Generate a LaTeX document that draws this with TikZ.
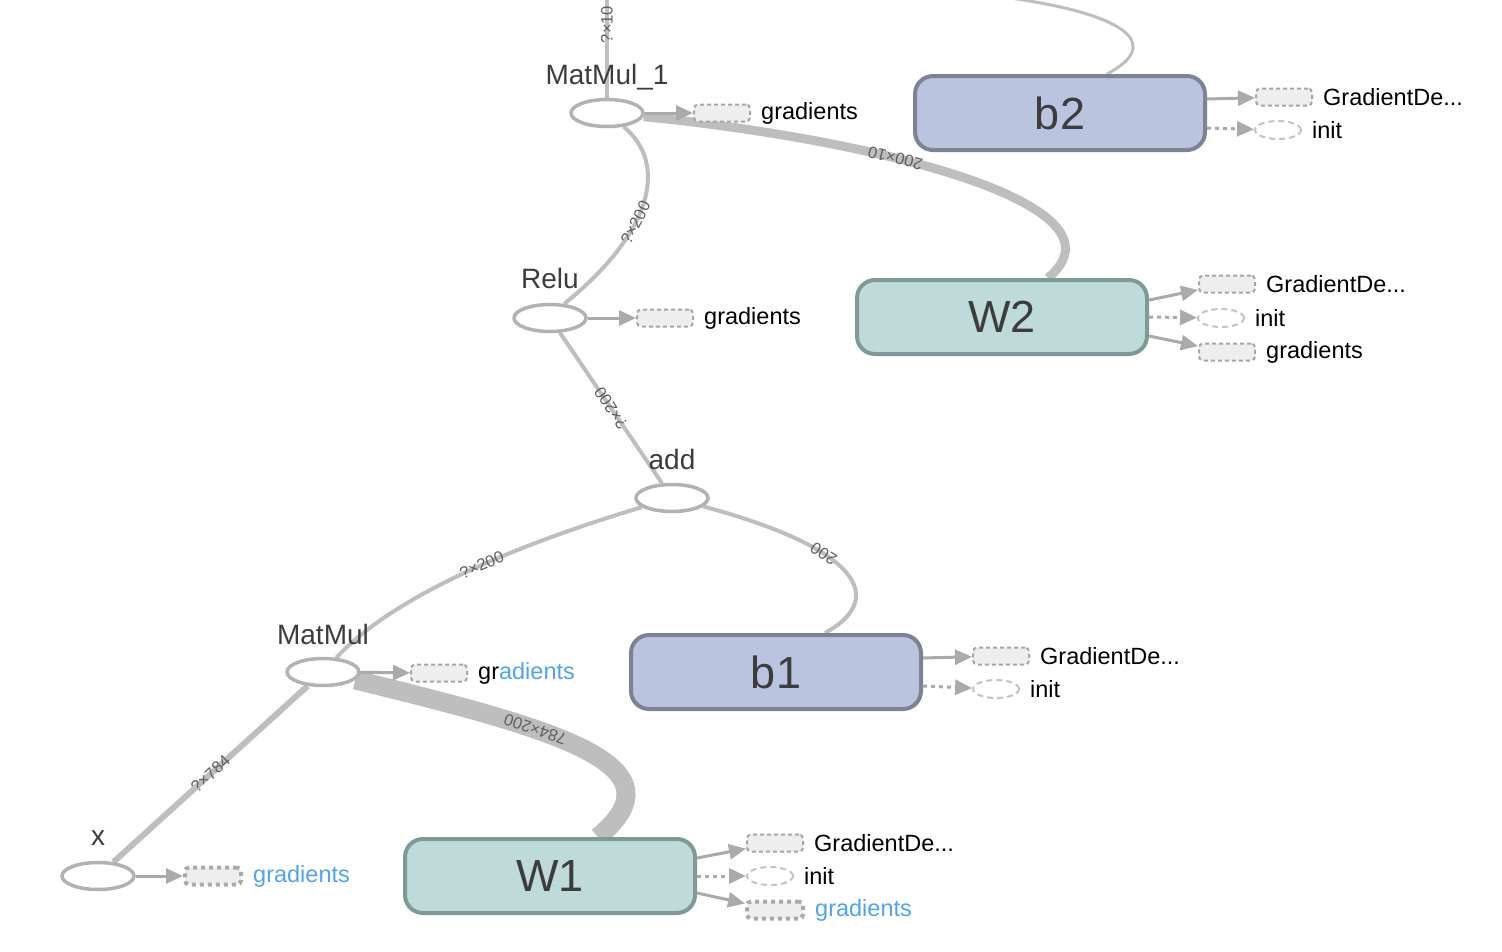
\documentclass[tikz,border=0pt]{standalone}
\usepackage{fontspec}
\setmainfont{Liberation Sans}
\usepackage{xcolor}
\usetikzlibrary{shapes.geometric,arrows.meta,positioning,backgrounds}

\definecolor{arista}{RGB}{190,190,190}
\definecolor{flecha}{RGB}{170,170,170}
\definecolor{opborde}{RGB}{178,178,178}
\definecolor{auxrelleno}{RGB}{238,238,238}
\definecolor{auxborde}{RGB}{165,165,165}
\definecolor{iniborde}{RGB}{195,195,195}
\definecolor{bazul}{RGB}{186,196,222}
\definecolor{bborde}{RGB}{124,131,149}
\definecolor{wverde}{RGB}{190,219,218}
\definecolor{wborde}{RGB}{126,153,152}
\definecolor{textoop}{RGB}{60,60,60}
\definecolor{azul}{RGB}{79,163,242}
\definecolor{etiqgris}{RGB}{95,95,95}

\tikzset{
    opnodo/.style={ellipse, draw=opborde, line width=3.5pt, fill=white,
        minimum width=72pt, minimum height=27pt, inner sep=0pt},
    opnombre/.style={anchor=base, inner sep=0pt, text=textoop,
        font=\fontsize{28}{30}\selectfont},
    varnodo/.style={rectangle, rounded corners=18pt, line width=4pt,
        minimum width=290pt, minimum height=74pt, text=textoop,
        font=\fontsize{45}{47}\selectfont},
    auxnodo/.style={rectangle, rounded corners=4pt, draw=auxborde, fill=auxrelleno,
        line width=2pt, dash pattern=on 4pt off 3pt,
        minimum width=56pt, minimum height=17pt, inner sep=0pt},
    auxpunt/.style={auxnodo, line width=4pt, draw=flecha, dash pattern=on 4pt off 4pt},
    auxinit/.style={ellipse, draw=iniborde, fill=white, line width=2pt,
        dash pattern=on 6pt off 4pt, minimum width=46pt, minimum height=18pt, inner sep=0pt},
    auxtexto/.style={anchor=west, inner sep=0pt, font=\fontsize{23.5}{26}\selectfont},
    flujo/.style={draw=arista, line width=4pt},
    etiq/.style={font=\fontsize{16.5}{18}\selectfont, text=etiqgris, inner sep=1pt,
        sloped, allow upside down},
    ctrl/.style={draw=flecha, line width=3pt, -{Triangle[length=17pt,width=15pt]}},
    ctrlpunt/.style={ctrl, dash pattern=on 4pt off 4pt}
}

\begin{document}
\begin{tikzpicture}[x=1pt,y=-1pt]
    \useasboundingbox (0,0) rectangle (1502,951);

    % operaciones
    \node[opnodo] (mm1) at (607,113) {};
    \node[opnodo] (relu) at (550,318) {};
    \node[opnodo] (add) at (672,498) {};
    \node[opnodo] (mm) at (323,672) {};
    \node[opnodo] (xin) at (98,876) {};

    % nombres de las operaciones
    \node[opnombre] (mm1n) at ([yshift=13pt]mm1.north) {MatMul\_1};
    \node[opnombre] (relun) at ([yshift=14pt]relu.north) {Relu};
    \node[opnombre] (addn) at ([yshift=13pt]add.north) {add};
    \node[opnombre] (mmn) at ([yshift=12pt]mm.north) {MatMul};
    \node[opnombre] (xinn) at ([yshift=15pt]xin.north) {x};

    % variables
    \node[varnodo, fill=bazul, draw=bborde] (b2) at (1060,113) {b2};
    \node[varnodo, fill=wverde, draw=wborde] (w2) at (1002,317) {W2};
    \node[varnodo, fill=bazul, draw=bborde] (b1) at (776,672) {b1};
    \node[varnodo, fill=wverde, draw=wborde] (w1) at (550,876) {W1};

    % nodos auxiliares
    \node[auxnodo] (mm1g) at (722,113) {};
    \node[auxnodo] (relug) at (665,318) {};
    \node[auxnodo] (mmg) at (439,673) {};
    \node[auxpunt] (xg) at (213,876) {};
    \node[auxnodo] (b2gd) at (1284,97) {};
    \node[auxinit] (b2ini) at (1278,130) {};
    \node[auxnodo] (w2gd) at (1227,284) {};
    \node[auxinit] (w2ini) at (1221,318) {};
    \node[auxnodo] (w2g) at (1227,352) {};
    \node[auxnodo] (b1gd) at (1001,656) {};
    \node[auxinit] (b1ini) at (996,689) {};
    \node[auxnodo] (w1gd) at (775,843) {};
    \node[auxinit] (w1ini) at (770,876) {};
    \node[auxpunt] (w1g) at (775,910) {};

    % textos auxiliares
    \node[auxtexto, right=10pt of mm1g] (mm1gt) {gradients};
    \node[auxtexto, right=10pt of relug] (relugt) {gradients};
    \node[auxtexto, right=10pt of mmg] (mmgt) {gr\textcolor{azul}{adients}};
    \node[auxtexto, text=azul, right=10pt of xg] (xgt) {gradients};
    \node[auxtexto, right=10pt of b2gd] (b2gdt) {GradientDe...};
    \node[auxtexto, right=10pt of b2ini] (b2init) {init};
    \node[auxtexto, right=10pt of w2gd] (w2gdt) {GradientDe...};
    \node[auxtexto, right=10pt of w2ini] (w2init) {init};
    \node[auxtexto, right=10pt of w2g] (w2gt) {gradients};
    \node[auxtexto, right=10pt of b1gd] (b1gdt) {GradientDe...};
    \node[auxtexto, right=10pt of b1ini] (b1init) {init};
    \node[auxtexto, right=10pt of w1gd] (w1gdt) {GradientDe...};
    \node[auxtexto, right=10pt of w1ini] (w1init) {init};
    \node[auxtexto, text=azul, right=10pt of w1g] (w1gt) {gradients};

    % flechas de control
    \draw[ctrl] (mm1) -- (mm1g);
    \draw[ctrl] (relu) -- (relug);
    \draw[ctrl] (mm) -- (mmg);
    \draw[ctrl] (xin) -- (xg);
    \draw[ctrl] ([yshift=14pt]b2.east) -- (b2gd);
    \draw[ctrlpunt] ([yshift=-15pt]b2.east) -- (b2ini);
    \draw[ctrl] ([yshift=17pt]w2.east) -- (w2gd);
    \draw[ctrlpunt] (w2.east) -- (w2ini);
    \draw[ctrl] ([yshift=-19pt]w2.east) -- (w2g);
    \draw[ctrl] ([yshift=14pt]b1.east) -- (b1gd);
    \draw[ctrlpunt] ([yshift=-14pt]b1.east) -- (b1ini);
    \draw[ctrl] ([yshift=18pt]w1.east) -- (w1gd);
    \draw[ctrlpunt] (w1.east) -- (w1ini);
    \draw[ctrl] ([yshift=-17pt]w1.east) -- (w1g);

    % aristas de datos
    \begin{pgfonlayer}{background}
    \coordinate (arriba) at (607,0);
    \coordinate (fuera) at (1010,-2);
    \draw[flujo] (mm1) -- (arriba) node[etiq, pos=0.75] {?×10};
    \draw[flujo, line width=9pt] ([xshift=46pt]w2.north) .. controls (1135,205) and (880,140) .. (mm1)
        node[etiq, pos=0.63] {200×10};
    \draw[flujo] (relu.45) .. controls (650,235) and (670,165) .. (mm1)
        node[etiq, pos=0.4] {?×200};
    \draw[flujo] (add) -- (relu) node[etiq, pos=0.5] {?×200};
    \draw[flujo] (mm) .. controls (390,600) and (500,550) .. (add)
        node[etiq, pos=0.58] {?×200};
    \draw[flujo] ([xshift=49pt]b1.north) .. controls (885,600) and (865,550) .. (add)
        node[etiq, pos=0.65] {200};
    \draw[flujo, line width=19pt] ([xshift=48pt]w1.north) .. controls (685,765) and (560,730) .. (mm)
        node[etiq, pos=0.65] {784×200};
    \draw[flujo, line width=6pt] (xin) -- (mm) node[etiq, pos=0.5] {?×784};
    \draw[flujo, line width=3pt] ([xshift=47pt]b2.north) .. controls (1162,45) and (1130,15) .. (fuera);
    \end{pgfonlayer}

\end{tikzpicture}
\end{document}
